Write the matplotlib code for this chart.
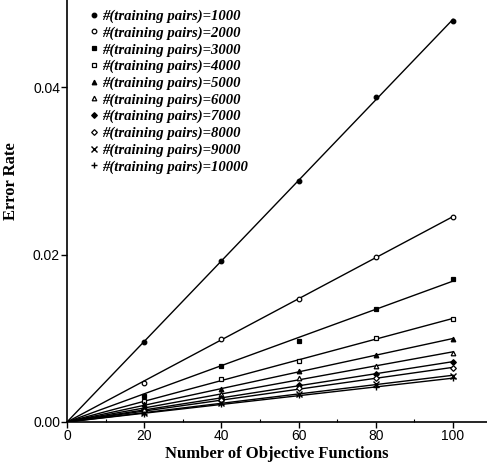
import numpy as np
import matplotlib
matplotlib.use("Agg")
import matplotlib.pyplot as plt

n_functions = [20, 40, 60, 80, 100]
pairs = [1000, 2000, 3000, 4000, 5000, 6000, 7000, 8000, 9000, 10000]
err_1000 = [0.0096, 0.0192, 0.0288, 0.0388, 0.0479]
err_2000 = [0.0047, 0.0099, 0.0147, 0.0197, 0.0245]
err_3000 = [0.0031, 0.0067, 0.0097, 0.0135, 0.0171]
err_4000 = [0.0025, 0.0051, 0.0073, 0.0100, 0.0123]
err_5000 = [0.0021, 0.0039, 0.0061, 0.0080, 0.0099]
err_6000 = [0.0017, 0.0034, 0.0053, 0.0067, 0.0082]
err_7000 = [0.0015, 0.0029, 0.0044, 0.0057, 0.0072]
err_8000 = [0.0013, 0.0026, 0.0040, 0.0052, 0.0065]
err_9000 = [0.0011, 0.0023, 0.0034, 0.0045, 0.0055]
err_10000 = [0.0010, 0.0021, 0.0032, 0.0042, 0.0052]
series = [err_1000, err_2000, err_3000, err_4000, err_5000,
          err_6000, err_7000, err_8000, err_9000, err_10000]

markers = [('o', True), ('o', False), ('s', True), ('s', False), ('^', True),
           ('^', False), ('D', True), ('D', False), ('x', True), ('+', True)]

fig = plt.figure(figsize=(4.87, 4.65), dpi=100)
ax = fig.add_axes([0.1376, 0.0925, 0.8624, 0.9075])

x = np.array(n_functions, dtype=float)
xfit = np.array([0.0, 100.0])
handles = []
for vals, p, (m, filled) in zip(series, pairs, markers):
    y = np.array(vals)
    slope = np.sum(x * y) / np.sum(x * x)
    ax.plot(xfit, slope * xfit, color='black', lw=1.0, zorder=2)
    ms = 3.3 if m != 'D' else 2.9
    if m in ('x', '+'):
        h, = ax.plot(x, y, ls='none', marker=m, color='black', ms=3.8, mew=1.0, zorder=3,
                     label=f'#(training pairs)={p}')
    else:
        h, = ax.plot(x, y, ls='none', marker=m, ms=ms, mew=0.9,
                     mec='black', mfc='black' if filled else 'white', zorder=3,
                     label=f'#(training pairs)={p}')
    handles.append(h)

ax.set_xlim(0, 108.8)
ax.set_ylim(0, 0.0504)
ax.spines['top'].set_visible(False)
ax.spines['right'].set_visible(False)
ax.spines['left'].set_linewidth(1.2)
ax.spines['bottom'].set_linewidth(1.2)

ax.set_xticks([0, 20, 40, 60, 80, 100])
ax.set_xticks([10, 30, 50, 70, 90], minor=True)
ax.set_yticks([0.0, 0.02, 0.04])
ax.set_yticklabels(['0.00', '0.02', '0.04'])
ax.tick_params(axis='both', which='major', direction='out', length=4, width=1,
               labelsize=10)
ax.tick_params(axis='x', which='minor', direction='in', length=2.5, width=0.8)
for lab in ax.get_xticklabels() + ax.get_yticklabels():
    lab.set_fontfamily('Liberation Sans')
ax.tick_params(axis='x', pad=1)
ax.tick_params(axis='y', pad=1)

ax.set_xlabel('Number of Objective Functions', fontfamily='Liberation Serif',
              fontweight='bold', fontsize=12, labelpad=2)
ax.set_ylabel('Error Rate', fontfamily='Liberation Serif', fontweight='bold',
              fontsize=12, labelpad=6)
ax.yaxis.set_label_coords(-0.115, 0.57)

leg = ax.legend(handles=handles, loc='upper left', bbox_to_anchor=(0.03, 1.0),
                frameon=False, handlelength=0.6, handletextpad=0.3,
                labelspacing=0.22, borderpad=0.15,
                prop={'family': 'Liberation Serif', 'style': 'italic',
                      'weight': 'bold', 'size': 10.6})

fig.savefig('out.png', dpi=100)
